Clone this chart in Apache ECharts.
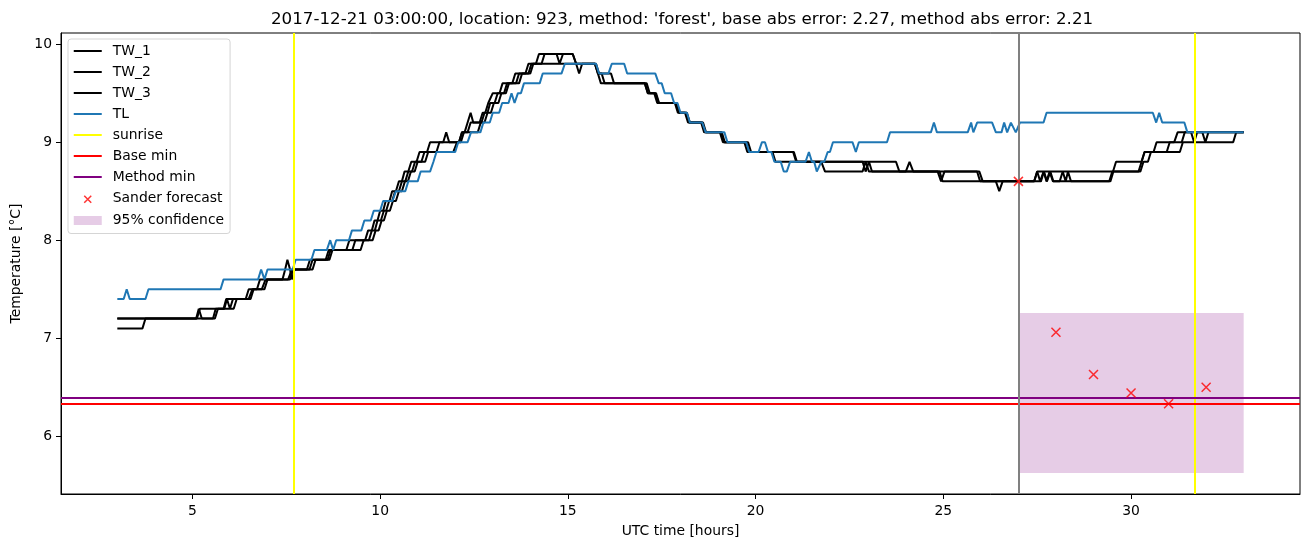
<!DOCTYPE html>
<html>
<head>
<meta charset="utf-8">
<script src="https://cdn.jsdelivr.net/npm/echarts@6/dist/echarts.min.js"></script>
<style>html,body{margin:0;padding:0;background:#fff}#c{width:1310px;height:547px}</style>
</head>
<body>
<div id="c"></div>
<script>
// ---- data ----
const xTicks = [5, 10, 15, 20, 25, 30];
const yTicks = [6, 7, 8, 9, 10];
const xRange = [1.5, 34.5];
const yRange = [5.41, 10.114];

const TL = [[3.0,7.4],[3.17,7.4],[3.25,7.5],[3.33,7.4],[3.75,7.4],[3.83,7.5],[5.75,7.5],[5.83,7.6],[6.75,7.6],[6.83,7.7],[6.92,7.6],[7.0,7.7],[7.67,7.7],[7.75,7.8],[8.17,7.8],[8.25,7.9],[8.58,7.9],[8.67,8.0],[8.75,7.9],[8.83,8.0],[9.17,8.0],[9.25,8.1],[9.5,8.1],[9.58,8.2],[9.75,8.2],[9.83,8.3],[10.0,8.3],[10.08,8.4],[10.33,8.4],[10.42,8.5],[10.67,8.5],[10.75,8.6],[11.0,8.6],[11.08,8.7],[11.33,8.7],[11.42,8.8],[11.5,8.9],[12.0,8.9],[12.08,9.0],[12.33,9.0],[12.42,9.1],[12.67,9.1],[12.75,9.2],[12.92,9.2],[13.0,9.3],[13.17,9.3],[13.25,9.4],[13.42,9.4],[13.5,9.5],[13.58,9.4],[13.67,9.5],[13.75,9.5],[13.83,9.6],[14.25,9.6],[14.33,9.7],[14.83,9.7],[14.92,9.8],[15.75,9.8],[15.83,9.7],[16.08,9.7],[16.17,9.8],[16.5,9.8],[16.58,9.7],[17.33,9.7],[17.42,9.6],[17.5,9.6],[17.58,9.5],[17.75,9.5],[17.83,9.4],[17.92,9.4],[18.0,9.3],[18.17,9.3],[18.25,9.2],[18.58,9.2],[18.67,9.1],[19.17,9.1],[19.25,9.0],[19.75,9.0],[19.83,8.9],[20.08,8.9],[20.17,9.0],[20.25,9.0],[20.33,8.9],[20.42,8.9],[20.5,8.8],[20.67,8.8],[20.75,8.7],[20.83,8.7],[20.92,8.8],[21.33,8.8],[21.42,8.9],[21.5,8.8],[21.56,8.8],[21.63,8.7],[21.75,8.8],[21.83,8.8],[21.92,8.9],[21.98,8.9],[22.06,9.0],[22.58,9.0],[22.67,8.9],[22.75,9.0],[23.5,9.0],[23.58,9.1],[24.67,9.1],[24.75,9.2],[24.83,9.1],[25.65,9.1],[25.74,9.2],[25.8,9.1],[25.9,9.2],[26.3,9.2],[26.4,9.1],[26.55,9.1],[26.62,9.2],[26.7,9.1],[26.8,9.2],[26.93,9.1],[27.04,9.2],[27.67,9.2],[27.75,9.3],[30.58,9.3],[30.67,9.2],[30.75,9.3],[30.83,9.2],[31.42,9.2],[31.5,9.1],[33.0,9.1]];

const TW_1 = [[3,7.2],[5.12,7.2],[5.2,7.3],[5.83,7.3],[5.9,7.4],[6.42,7.4],[6.5,7.5],[6.72,7.5],[6.8,7.6],[7.6,7.6],[7.68,7.7],[8.05,7.7],[8.13,7.8],[8.55,7.8],[8.63,7.9],[9.1,7.9],[9.18,8.0],[9.6,8.0],[9.68,8.1],[9.78,8.1],[9.85,8.2],[9.93,8.2],[10.0,8.3],[10.08,8.3],[10.15,8.4],[10.25,8.4],[10.32,8.5],[10.42,8.5],[10.5,8.6],[10.58,8.6],[10.65,8.7],[10.75,8.7],[10.83,8.8],[10.97,8.8],[11.05,8.9],[11.25,8.9],[11.33,9.0],[11.68,9.0],[11.76,9.1],[11.84,9.0],[12.1,9.0],[12.18,9.1],[12.25,9.1],[12.33,9.2],[12.41,9.3],[12.48,9.2],[12.65,9.2],[12.73,9.3],[12.8,9.3],[12.88,9.4],[12.93,9.4],[13.0,9.5],[13.18,9.5],[13.26,9.6],[13.52,9.6],[13.6,9.7],[13.87,9.7],[13.95,9.8],[14.15,9.8],[14.23,9.9],[15.13,9.9],[15.22,9.8],[15.72,9.8],[15.8,9.7],[15.88,9.6],[17.05,9.6],[17.13,9.5],[17.33,9.5],[17.42,9.4],[17.88,9.4],[17.96,9.3],[18.15,9.3],[18.23,9.2],[18.55,9.2],[18.63,9.1],[19.05,9.1],[19.13,9.0],[19.7,9.0],[19.78,8.9],[20.45,8.9],[20.53,8.8],[23.74,8.8],[23.83,8.7],[24.0,8.7],[24.1,8.8],[24.2,8.7],[25.96,8.7],[26.05,8.6],[27.42,8.6],[27.5,8.7],[29.52,8.7],[29.6,8.8],[30.28,8.8],[30.36,8.9],[30.6,8.9],[30.68,9.0],[31.15,9.0],[31.24,9.1],[33,9.1]];

const TW_2 = [[3,7.2],[5.1,7.2],[5.17,7.3],[5.25,7.2],[5.6,7.2],[5.68,7.3],[5.85,7.3],[5.92,7.4],[6.0,7.3],[6.08,7.4],[6.5,7.4],[6.6,7.5],[6.85,7.5],[6.95,7.6],[7.55,7.6],[7.65,7.7],[8.12,7.7],[8.2,7.8],[8.6,7.8],[8.68,7.9],[9.26,7.9],[9.34,8.0],[9.7,8.0],[9.78,8.1],[9.86,8.1],[9.93,8.2],[10.02,8.2],[10.1,8.3],[10.16,8.3],[10.24,8.4],[10.32,8.4],[10.4,8.5],[10.5,8.5],[10.58,8.6],[10.67,8.6],[10.75,8.7],[10.85,8.7],[10.93,8.8],[11.1,8.8],[11.18,8.9],[11.5,8.9],[11.58,9.0],[12.1,9.0],[12.18,9.1],[12.33,9.1],[12.41,9.2],[12.7,9.2],[12.78,9.3],[12.86,9.3],[12.93,9.4],[13.05,9.4],[13.13,9.5],[13.3,9.5],[13.38,9.6],[13.62,9.6],[13.7,9.7],[13.95,9.7],[14.03,9.8],[14.3,9.8],[14.38,9.9],[14.7,9.9],[14.78,9.8],[14.87,9.9],[15.13,9.9],[15.22,9.8],[15.3,9.7],[15.38,9.8],[15.75,9.8],[15.83,9.7],[16.15,9.7],[16.23,9.6],[17.1,9.6],[17.18,9.5],[17.35,9.5],[17.43,9.4],[17.9,9.4],[17.98,9.3],[18.17,9.3],[18.25,9.2],[18.6,9.2],[18.68,9.1],[19.1,9.1],[19.18,9.0],[19.75,9.0],[19.83,8.9],[21.0,8.9],[21.08,8.8],[21.75,8.8],[21.85,8.7],[22.85,8.7],[22.93,8.8],[23.02,8.7],[24.85,8.7],[24.94,8.6],[25.03,8.7],[25.9,8.7],[25.98,8.6],[27.42,8.6],[27.5,8.7],[27.58,8.6],[27.67,8.7],[27.75,8.6],[27.83,8.7],[27.92,8.6],[29.42,8.6],[29.5,8.7],[30.2,8.7],[30.28,8.8],[30.36,8.9],[30.95,8.9],[31.03,9.0],[31.35,9.0],[31.43,9.1],[31.6,9.1],[31.68,9.0],[31.76,9.1],[31.9,9.1],[31.98,9.0],[32.06,9.1],[33,9.1]];

const TW_3 = [[3,7.1],[3.67,7.1],[3.75,7.2],[5.55,7.2],[5.62,7.3],[6.1,7.3],[6.18,7.4],[6.55,7.4],[6.63,7.5],[6.92,7.5],[7.0,7.6],[7.4,7.6],[7.47,7.7],[7.53,7.8],[7.6,7.7],[7.65,7.6],[7.72,7.7],[8.2,7.7],[8.28,7.8],[8.65,7.8],[8.73,7.9],[9.48,7.9],[9.56,8.0],[9.8,8.0],[9.88,8.1],[9.96,8.1],[10.04,8.2],[10.1,8.2],[10.18,8.3],[10.26,8.3],[10.34,8.4],[10.42,8.4],[10.5,8.5],[10.58,8.5],[10.66,8.6],[10.74,8.6],[10.82,8.7],[10.92,8.7],[11.0,8.8],[11.2,8.8],[11.28,8.9],[11.95,8.9],[12.05,9.0],[12.15,9.0],[12.23,9.1],[12.6,9.1],[12.68,9.2],[12.78,9.2],[12.86,9.3],[12.95,9.3],[13.03,9.4],[13.15,9.4],[13.23,9.5],[13.35,9.5],[13.43,9.6],[13.7,9.6],[13.78,9.7],[14.0,9.7],[14.08,9.8],[15.72,9.8],[15.8,9.7],[15.9,9.7],[15.98,9.6],[17.05,9.6],[17.13,9.5],[17.3,9.5],[17.38,9.4],[17.85,9.4],[17.93,9.3],[18.12,9.3],[18.2,9.2],[18.58,9.2],[18.66,9.1],[19.08,9.1],[19.16,9.0],[19.8,9.0],[19.88,8.9],[21.02,8.9],[21.1,8.8],[22.85,8.8],[22.93,8.7],[23.02,8.8],[23.1,8.7],[24.9,8.7],[24.98,8.6],[26.4,8.6],[26.49,8.5],[26.58,8.6],[27.6,8.6],[27.68,8.7],[27.76,8.6],[27.85,8.7],[27.93,8.6],[28.1,8.6],[28.18,8.7],[28.26,8.6],[28.32,8.7],[28.4,8.6],[29.45,8.6],[29.53,8.7],[30.25,8.7],[30.33,8.8],[30.45,8.8],[30.53,8.9],[31.3,8.9],[31.38,9.0],[32.72,9.0],[32.8,9.1],[33,9.1]];

const sunriseTimes = [7.71, 31.69];
const nowTime = [27.0];
const baseMin = [6.33];
const methodMin = [6.39];
const sanderT = [27, 28, 29, 30, 31, 32];
const sanderV = [8.6, 7.06, 6.63, 6.44, 6.33, 6.50];
const confT = [27, 33];
const confV = [5.624, 7.257];

const titleText = "2017-12-21 03:00:00, location: 923, method: 'forest', base abs error: 2.27, method abs error: 2.21";

// ---- chart ----
const FONT = 'DejaVu Sans';
const LINE_ICON = 'path://M0,0 M28,14 M0,6 L28,6 L28,8 L0,8 Z';
const X_ICON = 'path://M0,0 M28,14 M10.5,4 L17.5,11 M17.5,4 L10.5,11';
const PATCH_ICON = 'path://M0,0 M28,14 M0,2.5 L28,2.5 L28,11.5 L0,11.5 Z';
const X_SYMBOL = 'path://M0,0 L10,10 M10,0 L0,10';

function lineSeries(name, data, color) {
  return {name, type: 'line', data, symbol: 'none', showSymbol: false, z: 2,
    lineStyle: {color, width: 2}, itemStyle: {color}, animation: false};
}
function markSeries(name, color, key, values, z) {
  return {name, type: 'line', data: [], symbol: 'none', z, itemStyle: {color}, lineStyle: {color},
    markLine: {silent: true, symbol: 'none', label: {show: false}, animation: false,
      lineStyle: {color, width: 2, type: 'solid'},
      emphasis: {disabled: true},
      data: values.map(v => ({[key]: v}))}};
}

const chart = echarts.init(document.getElementById('c'), null, {renderer: 'canvas'});
chart.setOption({
  animation: false,
  backgroundColor: '#fff',
  textStyle: {fontFamily: FONT},
  title: {text: titleText, left: 266, top: 6, padding: [5, 5, 5, 5],
    textStyle: {fontFamily: FONT, fontSize: 16.7, fontWeight: 'normal', color: '#000'}},
  grid: {left: 61, right: 10, top: 33, bottom: 53, show: true, borderColor: '#000', borderWidth: 1, containLabel: false},
  legend: {
    orient: 'vertical', left: 68, top: 39, itemWidth: 28, itemHeight: 14, itemGap: 7,
    padding: [5, 6, 6, 5], backgroundColor: '#fff', borderColor: '#d5d5d5', borderWidth: 1, borderRadius: 3,
    selectedMode: false,
    textStyle: {fontFamily: FONT, fontSize: 13.9, color: '#000', padding: [0, 0, 0, 6]},
    data: [
      {name: 'TW_1', icon: LINE_ICON, itemStyle: {color: '#000', borderWidth: 0}},
      {name: 'TW_2', icon: LINE_ICON, itemStyle: {color: '#000', borderWidth: 0}},
      {name: 'TW_3', icon: LINE_ICON, itemStyle: {color: '#000', borderWidth: 0}},
      {name: 'TL', icon: LINE_ICON, itemStyle: {color: '#1f77b4', borderWidth: 0}},
      {name: 'sunrise', icon: LINE_ICON, itemStyle: {color: '#ffff00', borderWidth: 0}},
      {name: 'Base min', icon: LINE_ICON, itemStyle: {color: '#ff0000', borderWidth: 0}},
      {name: 'Method min', icon: LINE_ICON, itemStyle: {color: '#800080', borderWidth: 0}},
      {name: 'Sander forecast', icon: X_ICON, itemStyle: {color: 'rgba(0,0,0,0)', borderColor: '#ff0000', borderWidth: 1.5}},
      {name: '95% confidence', icon: PATCH_ICON, itemStyle: {color: 'rgba(128,0,128,0.2)', borderWidth: 0}}
    ]
  },
  xAxis: {
    type: 'value', min: xRange[0], max: xRange[1],
    name: 'UTC time [hours]', nameLocation: 'middle', nameGap: 30,
    nameTextStyle: {fontFamily: FONT, fontSize: 13.9, color: '#000'},
    axisLine: {show: true, onZero: false, lineStyle: {color: '#000', width: 1}},
    axisTick: {show: true, length: 5, customValues: xTicks, lineStyle: {color: '#000', width: 1}},
    axisLabel: {customValues: xTicks, color: '#000', fontSize: 13.9, fontFamily: FONT, margin: 10},
    splitLine: {show: false}
  },
  yAxis: {
    type: 'value', min: yRange[0], max: yRange[1],
    name: 'Temperature [°C]', nameLocation: 'middle', nameGap: 35, nameRotate: 90,
    nameTextStyle: {fontFamily: FONT, fontSize: 13.9, color: '#000'},
    axisLine: {show: true, onZero: false, lineStyle: {color: '#000', width: 1}},
    axisTick: {show: true, length: 5, customValues: yTicks, lineStyle: {color: '#000', width: 1}},
    axisLabel: {customValues: yTicks, color: '#000', fontSize: 13.9, fontFamily: FONT, margin: 9},
    splitLine: {show: false}
  },
  series: [
    lineSeries('TW_1', TW_1, '#000000'),
    lineSeries('TW_2', TW_2, '#000000'),
    lineSeries('TW_3', TW_3, '#000000'),
    lineSeries('TL', TL, '#1f77b4'),
    markSeries('sunrise', '#ffff00', 'xAxis', sunriseTimes, 3),
    markSeries('Base min', '#ff0000', 'yAxis', baseMin, 3),
    markSeries('Method min', '#800080', 'yAxis', methodMin, 3),
    markSeries('now', '#808080', 'xAxis', nowTime, 3),
    {name: 'Sander forecast', type: 'scatter', z: 5,
      data: sanderT.map((t, i) => [t, sanderV[i]]),
      symbol: X_SYMBOL, symbolSize: 9,
      itemStyle: {color: 'rgba(0,0,0,0)', borderColor: '#ff0000', borderWidth: 1.5},
      emphasis: {disabled: true}},
    {name: '95% confidence', type: 'custom', z: 1,
      data: [[confT[0], confT[1], confV[0], confV[1]]],
      encode: {x: [0, 1], y: [2, 3]},
      itemStyle: {color: 'rgba(128,0,128,0.2)'},
      renderItem: function (params, api) {
        const p0 = api.coord([api.value(0), api.value(3)]);
        const p1 = api.coord([api.value(1), api.value(2)]);
        return {type: 'rect', shape: {x: p0[0], y: p0[1], width: p1[0] - p0[0], height: p1[1] - p0[1]},
          style: {fill: 'rgba(128,0,128,0.2)'}};
      }}
  ]
});
</script>
</body>
</html>
